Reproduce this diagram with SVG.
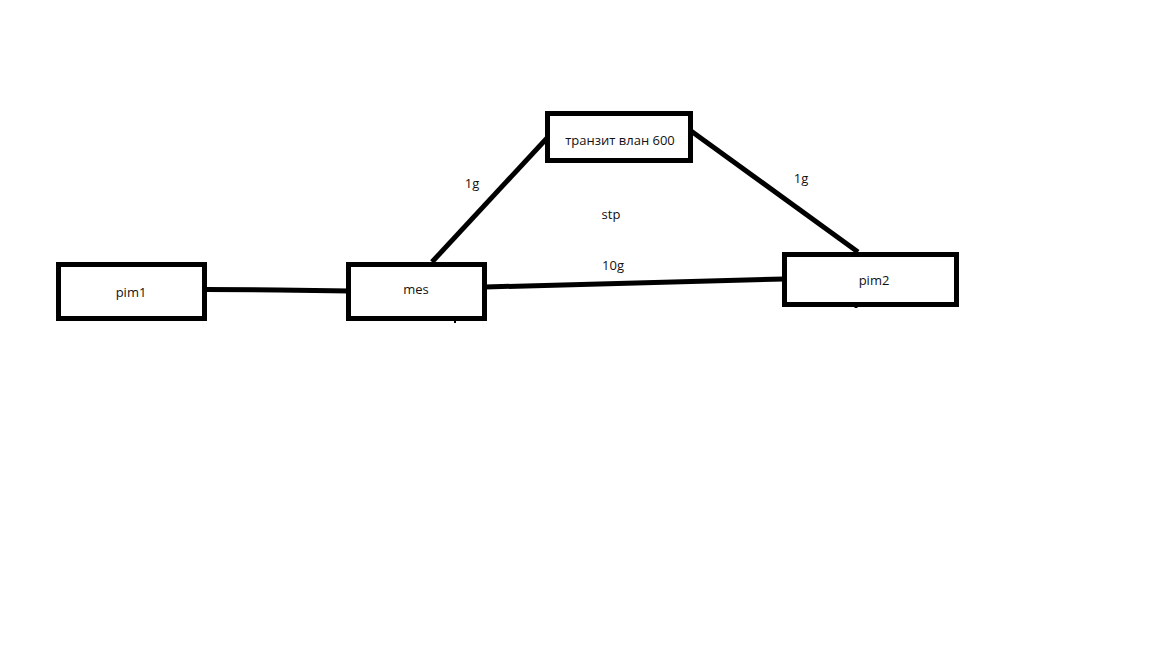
<svg xmlns="http://www.w3.org/2000/svg" width="1152" height="648" viewBox="0 0 1152 648">
<style>
.box{fill:#fff;stroke:#000;stroke-width:5}
.ln{fill:none;stroke:#000;stroke-width:5}
text{font-family:"Open Sans","Noto Sans","DejaVu Sans",sans-serif;font-size:13px;fill:#111;text-anchor:middle}
</style>
<rect width="1152" height="648" fill="#fff"/>
<g id="connectors">
<polyline class="ln" points="205,289.5 278,290 350,291"/>
<line class="ln" x1="485" y1="287" x2="784" y2="279"/>
<line class="ln" x1="432" y1="262" x2="548" y2="137"/>
<line class="ln" x1="691" y1="131" x2="858" y2="252"/>
<line class="ln" x1="455" y1="319" x2="455" y2="323" style="stroke-width:2"/>
<line class="ln" x1="856" y1="305" x2="856" y2="308" style="stroke-width:3"/>
</g>
<g id="pim1"><rect class="box" x="58.5" y="264.5" width="146" height="54"/><text x="131" y="297">pim1</text></g>
<g id="mes"><rect class="box" x="348.5" y="264.5" width="136" height="54"/><text x="416" y="294">mes</text></g>
<g id="transit"><rect class="box" x="547.5" y="113.5" width="143" height="47"/><text x="620" y="145">транзит влан 600</text></g>
<g id="pim2"><rect class="box" x="784.5" y="254.5" width="172" height="50"/><text x="874" y="285">pim2</text></g>
<g id="labels">
<text x="472" y="188">1g</text>
<text x="801" y="183">1g</text>
<text x="611" y="219">stp</text>
<text x="613" y="270">10g</text>
</g>
</svg>
